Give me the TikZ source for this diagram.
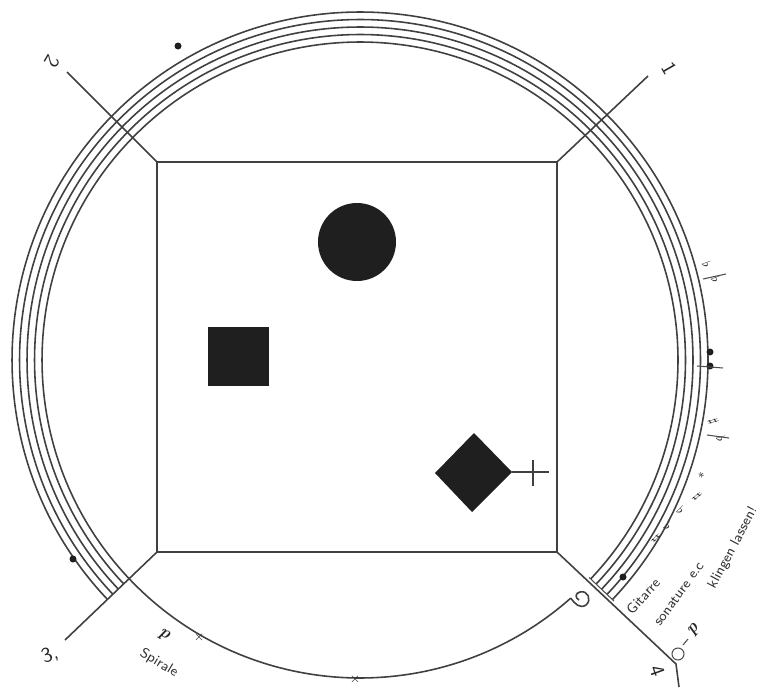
\documentclass[tikz,border=0pt]{standalone}
\usepackage{fontspec}
\usetikzlibrary{calc}
\tikzset{
  ink/.style={line width=0.9pt, black!75},
  thin/.style={line width=0.6pt, black!70},
  blob/.style={fill=black!88, draw=none},
  hand/.style={font=\sffamily\footnotesize, inner sep=0pt, text=black!80},
  num/.style={font=\sffamily\large, inner sep=0pt, text=black!85},
  dyn/.style={font=\bfseries\itshape\normalsize, inner sep=0pt, text=black!85},
  acc/.style={font=\scriptsize, inner sep=0pt, text=black!85}
}

\begin{document}
\begin{tikzpicture}[x=0.02cm, y=-0.02cm]
  \useasboundingbox[fill=white] (0,0) rectangle (761,687);
  \coordinate (c) at (360,360);
  \coordinate (tl) at (157,162);
  \coordinate (tr) at (557,162);
  \coordinate (bl) at (157,552);
  \coordinate (br) at (557,552);
  \coordinate (etl) at (67,72);
  \coordinate (etr) at (648,76);
  \coordinate (ebl) at (65,640);
  \coordinate (ebr) at (676,664);
  \coordinate (ebb) at (679,687);
  % frame and diagonals
  \draw[ink] (tl) -- (tr) -- (br) -- (bl) -- cycle;
  \draw[ink] (tl) -- (etl);
  \draw[ink] (tr) -- (etr);
  \draw[ink] (bl) -- (ebl);
  \draw[ink] (br) -- (ebr) -- (ebb);
  % staff
  \foreach \r in {318,325.5,333,340.5,348}
    \draw[ink] (c) ++(43.5:\r) arc[start angle=43.5, end angle=-223.5, radius=\r];
  \draw[thin] (c) ++(43.5:316) -- ++(43.5:34);
  \draw[ink] (c) ++(136.5:318) arc[start angle=136.5, end angle=48.5, radius=318] coordinate (hk);
  \draw[ink] (hk) .. controls (575,604) and (580,609) .. (586,605) .. controls (592,600) and (588,590) .. (580,592) .. controls (575,593) and (575,598) .. (579,600);
  % shapes
  \fill[blob] (357,242) circle[radius=39];
  \fill[blob] (208,327) rectangle (269,386);
  \fill[blob] (474,433) -- (512,472) -- (472,512) -- (435,473) -- cycle;
  \coordinate (dr) at (512,472);
  \coordinate (de) at (549,472);
  \coordinate (xt) at (533,460);
  \coordinate (xb) at (533,486);
  \draw[ink] (dr) -- (de);
  \draw[ink] (xt) -- (xb);
  % numbers
  \node[num, rotate=-120] (n2) at (52,62) {2};
  \node[num, rotate=-60] (n1) at (669,68) {1};
  \node[num, rotate=20] (n3) at (50,655) {3,};
  \node[num, rotate=-70] (n4) at (657,671) {4};
  % notes
  \fill[blob] (178,46) circle[radius=3.5];
  \fill[blob] (73,559) circle[radius=3.5];
  \fill[blob] (623,577) circle[radius=3.5];
  \fill[blob] (710,352) circle[radius=3.5];
  \fill[blob] (710,366) circle[radius=3.5];
  \coordinate (la) at (697,366);
  \coordinate (lb) at (723,368);
  \draw[thin] (la) -- (lb);
  \coordinate (lc) at (703,279);
  \coordinate (ld) at (726,274);
  \draw[thin] (lc) -- (ld);
  \coordinate (le) at (707,435);
  \coordinate (lf) at (729,438);
  \draw[thin] (le) -- (lf);
  \node[acc, rotate=-70] (a1) at (707,265) {$\flat$};
  \node[acc, rotate=-70] (a2) at (716,280) {$\flat$};
  \node[acc, rotate=-75] (a3) at (713,421) {$\sharp$};
  \node[acc, rotate=-75] (a4) at (721,439) {$\flat$};
  \node[acc, rotate=-50] (a5) at (701,475) {$\ast$};
  \node[acc, rotate=-50] (a6) at (697,497) {$\sharp$};
  \node[acc, rotate=-45] (a7) at (681,510) {$\flat$};
  \node[acc, rotate=-45] (a8) at (668,526) {$\flat$};
  \node[acc, rotate=-45] (a9) at (656,538) {$\sharp$};
  % texts
  \node[hand, rotate=48] (git) at (643,596) {Gitarre};
  \node[hand, rotate=54] (son) at (679,594) {sonature e.c};
  \node[hand, rotate=62] (kli) at (733,548) {klingen lassen!};
  \node[hand, rotate=-31] (spi) at (159,663) {Spirale};
  \node[dyn, rotate=-30] (p1) at (164,635) {p};
  \node[dyn, rotate=50] (p2) at (694,630) {p};
  \coordinate (hc) at (678,654);
  \draw[thin] (hc) circle[radius=6];
  \coordinate (hs) at (683,645);
  \coordinate (ht) at (688,639);
  \draw[thin] (hs) -- (ht);
  \node[acc] (x1) at (199,637) {$\times$};
  \node[acc] (x2) at (355,679) {$\times$};
\end{tikzpicture}
\end{document}
